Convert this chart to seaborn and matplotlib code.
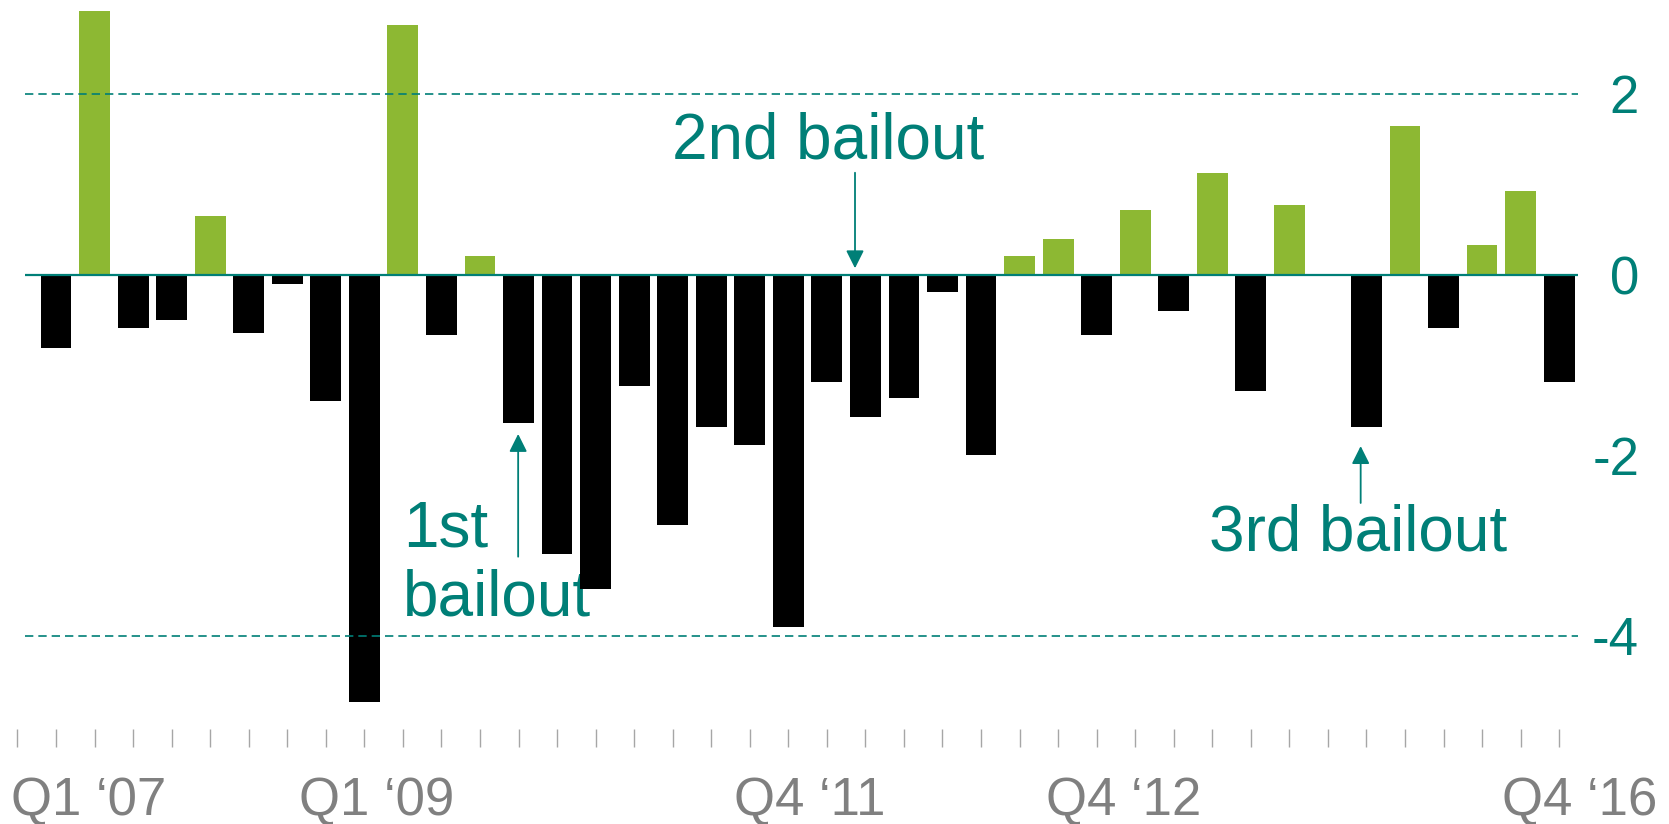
import pandas as pd
import matplotlib
matplotlib.use("Agg")
import matplotlib.pyplot as plt
import seaborn as sns

# quarterly change, Q1 '07 .. Q4 '16 (40 quarters)
quarter_num = list(range(1, 41))
growth = [-0.81, 2.92, -0.59, -0.50, 0.65, -0.65, -0.11, -1.40, -4.73, 2.76,
          -0.67, 0.20, -1.64, -3.10, -3.48, -1.23, -2.77, -1.69, -1.89, -3.90,
          -1.19, -1.58, -1.37, -0.19, -2.00, 0.20, 0.39, -0.67, 0.71, -0.40,
          1.12, -1.29, 0.77, 0.00, -1.69, 1.65, -0.59, 0.33, 0.92, -1.19]
axis_labels = ["Q1 \u201807", "Q1 \u201809", "Q4 \u201811", "Q4 \u201812", "Q4 \u201816"]
y_ticks = [2, 0, -2, -4]
bailout_text = ["1st\nbailout", "2nd bailout", "3rd bailout"]

teal = "#007F77"
green = "#8DB833"
grey = "#808080"

df = pd.DataFrame({"q": quarter_num, "val": growth})
df["sign"] = ["up" if v > 0 else "down" for v in df["val"]]

sns.set_theme(style="white")
plt.rcParams["font.family"] = ["Liberation Sans", "DejaVu Sans"]

fig = plt.figure(figsize=(16.69, 8.24), dpi=100)
ax = fig.add_axes([0, 95 / 824, 1, 729 / 824])

sns.barplot(data=df, x="q", y="val", hue="sign", palette={"up": green, "down": "black"},
            dodge=False, native_scale=True, width=0.8, errorbar=None, saturation=1,
            linewidth=0, legend=False, ax=ax)

# reference lines
ax.hlines([2, -4], 0.2, 40.5, colors=teal, linestyles=(0, (5, 3)), lw=1.2, zorder=1)
ax.hlines(0, 0.2, 40.5, colors=teal, lw=1.6, zorder=5)

ax.set_xlim(-0.454, 42.85)
ax.set_ylim(-5.033, 3.04)
for s in ax.spines.values():
    s.set_visible(False)

# x axis: tick marks every quarter, a few labels
ax.set_xticks(range(0, 41))
ax.set_xticklabels([])
ax.set_xticks([1.85, 9.33, 20.55, 28.71, 40.52], axis_labels, minor=True)
ax.tick_params(axis="x", which="major", direction="out", length=13, width=1,
               color="#A6A6A6", bottom=True)
ax.tick_params(axis="x", which="minor", length=0, pad=34.5, labelsize=38, labelcolor=grey)
ax.set_xlabel("")

# y axis labels on the right
ax.yaxis.tick_right()
ax.set_yticks(y_ticks, [str(t) for t in y_ticks])
ax.tick_params(axis="y", length=0, pad=-21.6, labelsize=38, labelcolor=teal)
for lab in ax.get_yticklabels():
    lab.set_horizontalalignment("right")
ax.set_ylabel("")
ax.grid(False)

# bailout annotations
arrow = dict(arrowstyle="-|>,head_length=0.4,head_width=0.2", color=teal, lw=1.3,
             mutation_scale=27, shrinkA=0, shrinkB=0)
ax.annotate("", xy=(12.99, -1.766), xytext=(12.99, -3.125), arrowprops=arrow)
ax.annotate("", xy=(21.73, 0.069), xytext=(21.73, 1.127), arrowprops=arrow)
ax.annotate("", xy=(34.85, -1.90), xytext=(34.85, -2.53), arrowprops=arrow)

ax.text(10.0, -3.771, bailout_text[0], color=teal, fontsize=46, ha="left",
        va="baseline", linespacing=1.18, zorder=0)
ax.text(21.02, 1.28, bailout_text[1], color=teal, fontsize=46, ha="center", va="baseline")
ax.text(34.78, -3.06, bailout_text[2], color=teal, fontsize=46, ha="center", va="baseline")

fig.savefig("out.png", dpi=100, facecolor="white")
